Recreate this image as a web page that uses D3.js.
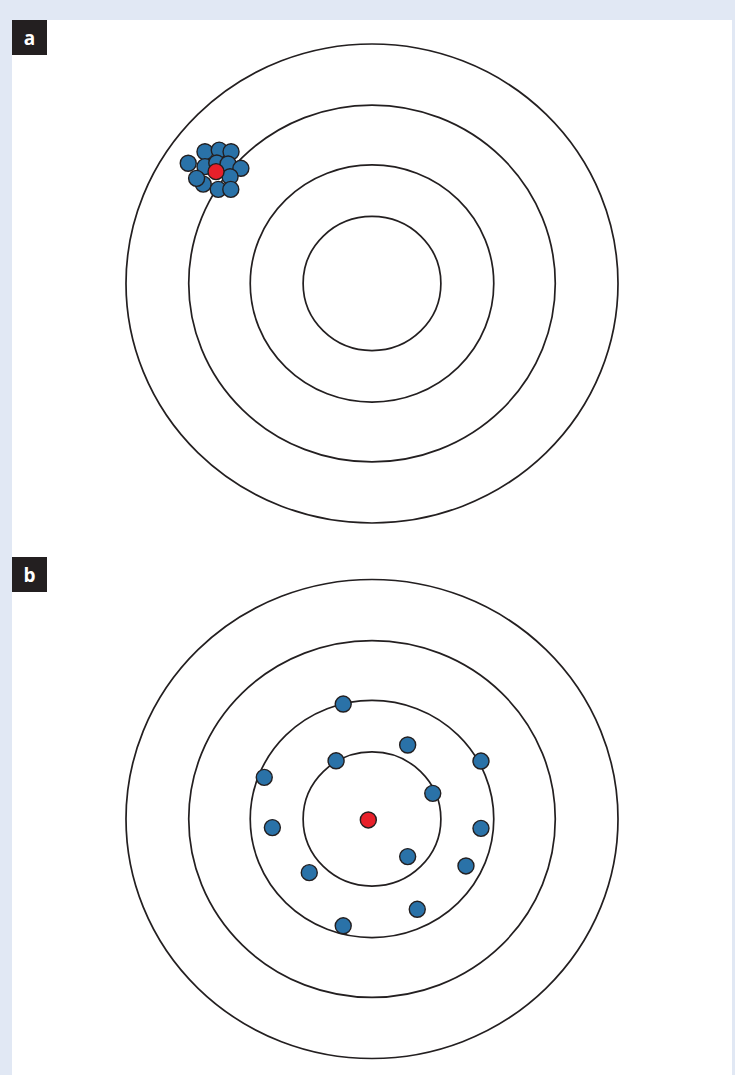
<!DOCTYPE html>
<html>
<head>
<meta charset="utf-8">
<script src="https://cdn.jsdelivr.net/npm/d3@7"></script>
<style>
  html, body { margin: 0; padding: 0; background: #e1e8f4; }
  svg { display: block; }
</style>
</head>
<body>
<div id="chart"></div>
<script>
const width = 735;
const height = 1075;

// ring radii, as a fraction of the outer ring
const ringRadii = [0.28, 0.495, 0.745, 1];

// panel labels
const panels = ['a', 'b'];

// panel a: tight cluster away from the centre (precise, not accurate)
const shotsA = [
  [-0.747, 0.502], [-0.679, 0.550], [-0.621, 0.557], [-0.573, 0.550],
  [-0.679, 0.488], [-0.631, 0.503], [-0.585, 0.499], [-0.533, 0.481],
  [-0.577, 0.446], [-0.686, 0.415], [-0.713, 0.439], [-0.625, 0.393],
  [-0.574, 0.393]
];
const meanA = [-0.634, 0.467];

// panel b: wide spread around the centre (accurate, not precise)
const shotsB = [
  [-0.117, 0.480], [0.145, 0.309], [-0.146, 0.243], [0.443, 0.242],
  [-0.438, 0.174], [0.247, 0.107], [-0.405, -0.036], [0.443, -0.039],
  [0.145, -0.157], [0.382, -0.196], [-0.255, -0.224], [0.184, -0.377],
  [-0.117, -0.446]
];
const meanB = [-0.015, -0.004];

const svg = d3.select('#chart').append('svg')
  .attr('width', width)
  .attr('height', height);

// white panel
svg.append('rect')
  .attr('x', 12).attr('y', 20)
  .attr('width', 720).attr('height', height - 20)
  .attr('fill', '#ffffff');

const targets = [
  { label: panels[0], cy: 283.5, labelY: 20, shots: shotsA, mean: meanA },
  { label: panels[1], cy: 819, labelY: 557, shots: shotsB, mean: meanB }
];

const cx = 372;
const rx = 246, ry = 239.5;

targets.forEach(t => {
  const x = d3.scaleLinear().domain([-1, 1]).range([cx - rx, cx + rx]);
  const y = d3.scaleLinear().domain([-1, 1]).range([t.cy + ry, t.cy - ry]);

  const g = svg.append('g');

  // rings
  g.selectAll('ellipse.ring')
    .data(ringRadii.slice().reverse())
    .enter().append('ellipse')
      .attr('class', 'ring')
      .attr('cx', x(0))
      .attr('cy', y(0))
      .attr('rx', d => x(d) - x(0))
      .attr('ry', d => y(0) - y(d))
      .attr('fill', 'none')
      .attr('stroke', '#231f20')
      .attr('stroke-width', 1.7);

  // shots
  g.selectAll('circle.shot')
    .data(t.shots)
    .enter().append('circle')
      .attr('class', 'shot')
      .attr('cx', d => x(d[0]))
      .attr('cy', d => y(d[1]))
      .attr('r', 8)
      .attr('fill', '#2a72a8')
      .attr('stroke', '#231f20')
      .attr('stroke-width', 1.4);

  // mean
  g.append('circle')
    .datum(t.mean)
    .attr('cx', d => x(d[0]))
    .attr('cy', d => y(d[1]))
    .attr('r', 8)
    .attr('fill', '#e8202a')
    .attr('stroke', '#231f20')
    .attr('stroke-width', 1.4);

  // panel label
  svg.append('rect')
    .attr('x', 12).attr('y', t.labelY)
    .attr('width', 35).attr('height', 35)
    .attr('fill', '#231f20');
  svg.append('text')
    .attr('x', 29.5).attr('y', t.labelY + 25)
    .attr('text-anchor', 'middle')
    .attr('fill', '#ffffff')
    .attr('font-family', '"Open Sans", sans-serif')
    .attr('font-weight', 'bold')
    .attr('font-size', 19)
    .text(t.label);
});
</script>
</body>
</html>
